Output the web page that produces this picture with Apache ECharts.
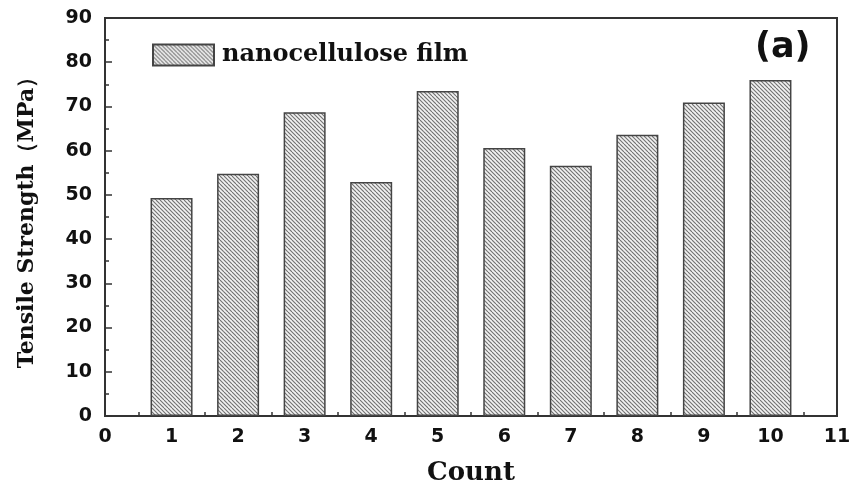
<!DOCTYPE html>
<html>
<head>
<meta charset="utf-8">
<script src="https://cdn.jsdelivr.net/npm/echarts@6/dist/echarts.min.js"></script>
<style>
  html, body { margin: 0; padding: 0; background: #fff; }
  #chart { width: 849px; height: 487px; }
</style>
</head>
<body>
<div id="chart"></div>
<script>
// Tensile strength of nanocellulose film samples
const counts = [1, 2, 3, 4, 5, 6, 7, 8, 9, 10];
const strength = [49.3, 54.8, 68.7, 52.9, 73.5, 60.6, 56.6, 63.6, 70.9, 76.0];
const seriesName = 'nanocellulose film';

// Diagonal hatch fill for the bars
function hatchPattern() {
  const size = 8;
  const c = document.createElement('canvas');
  c.width = size; c.height = size;
  const g = c.getContext('2d');
  g.fillStyle = '#f2f2f2';
  g.fillRect(0, 0, size, size);
  g.strokeStyle = '#707070';
  g.lineWidth = 1.1;
  for (let k = -size; k <= size * 2; k += 4) {
    g.beginPath();
    g.moveTo(k, 0);
    g.lineTo(k + size, size);
    g.stroke();
  }
  return { image: c, repeat: 'repeat' };
}

const chart = echarts.init(document.getElementById('chart'));
const axisFont = { fontFamily: 'DejaVu Sans, sans-serif', fontWeight: 'bold', fontSize: 19, color: '#111' };
const serif = 'DejaVu Serif, serif';
const lineStyle = { color: '#333', width: 2 };

chart.setOption({
  animation: false,
  backgroundColor: '#fff',
  grid: {
    left: 105, right: 12, top: 18, bottom: 71,
    containLabel: false,
    outerBoundsMode: 'none',
    show: true, borderColor: '#333', borderWidth: 2
  },
  title: {
    text: '(a)',
    left: 750, top: 25,
    textStyle: { fontFamily: 'DejaVu Sans, sans-serif', fontWeight: 'bold', fontSize: 35, color: '#111' }
  },
  legend: {
    left: 147, top: 38,
    itemWidth: 61, itemHeight: 21, itemGap: 10,
    icon: 'rect',
    textStyle: { fontFamily: serif, fontWeight: 'bold', fontSize: 24, color: '#111', padding: [0, 0, 0, 3] },
    data: [seriesName]
  },
  xAxis: {
    type: 'value',
    min: 0, max: 11, interval: 1,
    name: 'Count',
    nameLocation: 'middle',
    nameGap: 44,
    nameTextStyle: { fontFamily: serif, fontWeight: 'bold', fontSize: 26, color: '#111' },
    axisLine: { show: true, lineStyle: lineStyle },
    axisTick: { show: true, inside: true, length: 7, lineStyle: { color: '#333', width: 1.5 } },
    minorTick: { show: true, splitNumber: 2, length: 4, lineStyle: { color: '#333', width: 1.5 } },
    axisLabel: Object.assign({ margin: 12 }, axisFont),
    splitLine: { show: false }
  },
  yAxis: {
    type: 'value',
    min: 0, max: 90, interval: 10,
    name: 'Tensile Strength（MPa）',
    nameLocation: 'middle',
    nameGap: 67,
    nameTextStyle: { fontFamily: serif, fontWeight: 'bold', fontSize: 22, color: '#111' },
    axisLine: { show: true, lineStyle: lineStyle },
    axisTick: { show: true, inside: true, length: 7, lineStyle: { color: '#333', width: 1.5 } },
    minorTick: { show: true, splitNumber: 2, length: 4, lineStyle: { color: '#333', width: 1.5 } },
    axisLabel: Object.assign({ margin: 13 }, axisFont),
    splitLine: { show: false }
  },
  series: [{
    name: seriesName,
    type: 'bar',
    barWidth: 42,
    data: counts.map((c, i) => [c, strength[i]]),
    itemStyle: {
      color: hatchPattern(),
      borderColor: '#444',
      borderWidth: 1.5
    }
  }]
});
</script>
</body>
</html>
